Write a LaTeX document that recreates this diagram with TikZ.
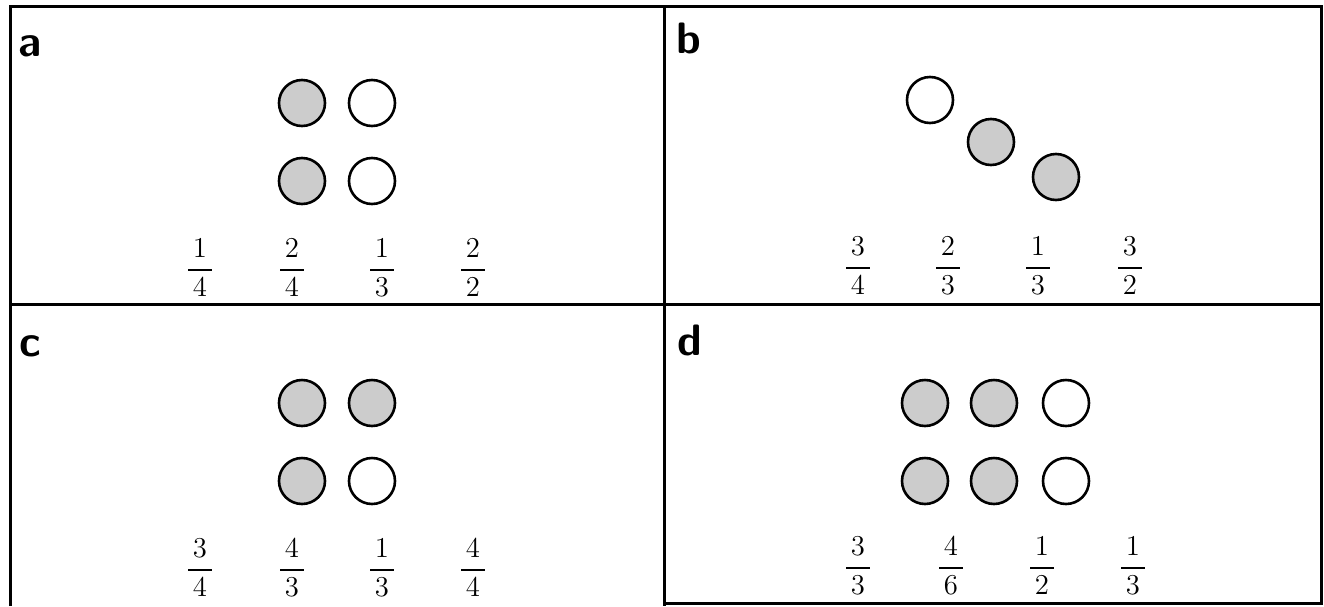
\documentclass[tikz,border=0pt]{standalone}
\usepackage{amsmath}
\usepackage{tikz}
\newcommand{\beadfrac}[2]{$\dfrac{\,#1\,}{\,#2\,}$}
\tikzset{
  panelframe/.style={line width=1.5pt},
  panellabel/.style={anchor=base west, inner sep=0pt, font=\sffamily\bfseries\fontsize{22}{24}\selectfont},
  fullbead/.style={draw, circle, line width=1.3pt, minimum size=23pt, inner sep=0pt, fill=gray!40},
  emptybead/.style={fullbead, fill=white},
  fraclabel/.style={inner sep=1pt, font=\fontsize{14}{16}\selectfont}
}
\begin{document}
\begin{tikzpicture}[x=0.5pt, y=-0.5pt]
  \useasboundingbox (0,0) rectangle (1324,606);
  % frame
  \draw[panelframe] (10,606) -- (10,6) -- (1321,6) -- (1321,603) -- (664,603);
  \draw[panelframe] (664,6) -- (664,606);
  \draw[panelframe] (10,304) -- (1321,304);

  % panel a
  \node[panellabel] (laba) at (18,56) {a};
  \node[fullbead]  (a11) at (302,103) {};
  \node[emptybead] (a12) at (372,103) {};
  \node[fullbead]  (a21) at (302,181) {};
  \node[emptybead] (a22) at (372,181) {};
  \node[fraclabel] (fa1) at (200,268) {\beadfrac{1}{4}};
  \node[fraclabel] (fa2) at (292,268) {\beadfrac{2}{4}};
  \node[fraclabel] (fa3) at (382,268) {\beadfrac{1}{3}};
  \node[fraclabel] (fa4) at (473,268) {\beadfrac{2}{2}};

  % panel b
  \node[panellabel] (labb) at (676,53) {b};
  \node[emptybead] (b1) at (930,100) {};
  \node[fullbead]  (b2) at (991,142) {};
  \node[fullbead]  (b3) at (1056,177) {};
  \node[fraclabel] (fb1) at (858,266) {\beadfrac{3}{4}};
  \node[fraclabel] (fb2) at (948,266) {\beadfrac{2}{3}};
  \node[fraclabel] (fb3) at (1038,266) {\beadfrac{1}{3}};
  \node[fraclabel] (fb4) at (1130,266) {\beadfrac{3}{2}};

  % panel c
  \node[panellabel] (labc) at (19,356) {c};
  \node[fullbead]  (c11) at (302,403) {};
  \node[fullbead]  (c12) at (372,403) {};
  \node[fullbead]  (c21) at (302,481) {};
  \node[emptybead] (c22) at (372,481) {};
  \node[fraclabel] (fc1) at (200,568) {\beadfrac{3}{4}};
  \node[fraclabel] (fc2) at (292,568) {\beadfrac{4}{3}};
  \node[fraclabel] (fc3) at (382,568) {\beadfrac{1}{3}};
  \node[fraclabel] (fc4) at (473,568) {\beadfrac{4}{4}};

  % panel d
  \node[panellabel] (labd) at (677,355) {d};
  \node[fullbead]  (d11) at (925,403) {};
  \node[fullbead]  (d12) at (994,403) {};
  \node[emptybead] (d13) at (1066,403) {};
  \node[fullbead]  (d21) at (925,481) {};
  \node[fullbead]  (d22) at (994,481) {};
  \node[emptybead] (d23) at (1066,481) {};
  \node[fraclabel] (fd1) at (858,566) {\beadfrac{3}{3}};
  \node[fraclabel] (fd2) at (951,566) {\beadfrac{4}{6}};
  \node[fraclabel] (fd3) at (1042,566) {\beadfrac{1}{2}};
  \node[fraclabel] (fd4) at (1133,566) {\beadfrac{1}{3}};
\end{tikzpicture}
\end{document}
